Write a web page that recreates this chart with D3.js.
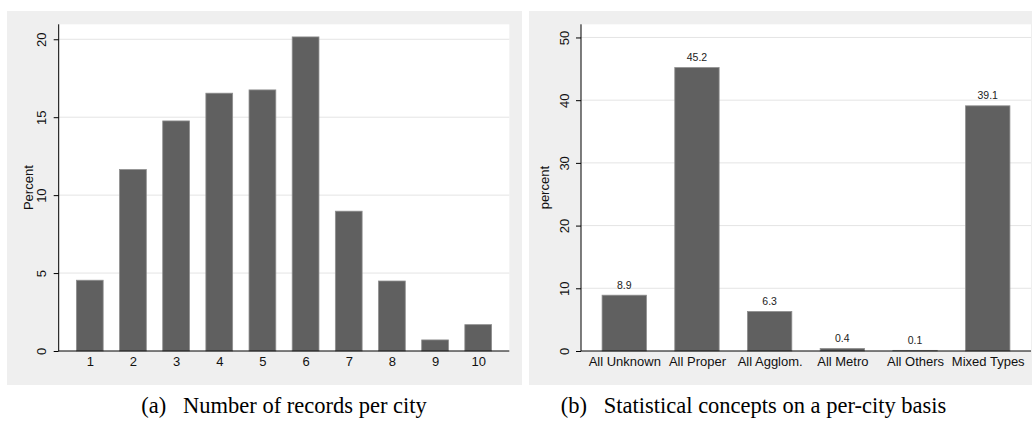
<!DOCTYPE html>
<html>
<head>
<meta charset="utf-8">
<script src="https://cdn.jsdelivr.net/npm/d3@7"></script>
<style>
  html, body { margin: 0; padding: 0; background: #ffffff; }
  svg { display: block; }
</style>
</head>
<body>
<svg id="chart" width="1032" height="427"></svg>
<script>
// Panel (a): share of cities by number of records
const recordCounts = ["1", "2", "3", "4", "5", "6", "7", "8", "9", "10"];
const recordPercent = [4.54, 11.64, 14.76, 16.54, 16.75, 20.15, 8.97, 4.49, 0.71, 1.69];
const recordTicks = [0, 5, 10, 15, 20];

// Panel (b): statistical concept types per city
const conceptTypes = ["All Unknown", "All Proper", "All Agglom.", "All Metro", "All Others", "Mixed Types"];
const conceptPercent = [8.9, 45.2, 6.3, 0.4, 0.1, 39.1];
const conceptTicks = [0, 10, 20, 30, 40, 50];

const captions = ["(a)\u2002 Number of records per city", "(b)\u2002 Statistical concepts on a per-city basis"];

const svg = d3.select("#chart");
const sansFont = "'Liberation Sans', Arial, Helvetica, sans-serif";
const serifFont = "'Liberation Serif', 'Times New Roman', Times, serif";
const barFill = "#606060";
const barEdge = "#8e8e8e";
const gridColor = "#e4e4e4";
const panelBg = "#efefef";
const axisFontSize = 13;

function drawPanel(cfg) {
  const g = svg.append("g");

  // grey graph region
  g.append("rect")
    .attr("x", cfg.bg[0]).attr("y", cfg.bg[1])
    .attr("width", cfg.bg[2]).attr("height", cfg.bg[3])
    .attr("fill", panelBg);

  const x = d3.scaleLinear().domain(cfg.xDomain).range([cfg.left, cfg.right]);
  const y = d3.scaleLinear().domain(cfg.yDomain).range([cfg.bottom, cfg.top]);

  // white plot region
  g.append("rect")
    .attr("x", cfg.left).attr("y", cfg.top)
    .attr("width", cfg.right - cfg.left).attr("height", cfg.bottom - cfg.top)
    .attr("fill", "#ffffff");

  // horizontal grid lines
  g.append("g").selectAll("line")
    .data(cfg.ticks.filter(t => t > 0))
    .join("line")
    .attr("x1", cfg.left).attr("x2", cfg.right)
    .attr("y1", d => y(d)).attr("y2", d => y(d))
    .attr("stroke", gridColor).attr("stroke-width", 1);

  // bars
  const bw = (x(1) - x(0)) * cfg.barWidth;
  g.append("g").selectAll("rect")
    .data(cfg.values)
    .join("rect")
    .attr("x", (d, i) => x(cfg.pos(i)) - bw / 2)
    .attr("y", d => y(d))
    .attr("width", bw)
    .attr("height", d => y(0) - y(d))
    .attr("fill", barFill)
    .attr("stroke", barEdge)
    .attr("stroke-width", 0.8);

  // value labels above bars
  if (cfg.showValues) {
    g.append("g").selectAll("text")
      .data(cfg.values)
      .join("text")
      .attr("x", (d, i) => x(cfg.pos(i)))
      .attr("y", d => y(d) - 6.5)
      .attr("text-anchor", "middle")
      .attr("font-family", sansFont)
      .attr("font-size", 10.5)
      .attr("fill", "#222")
      .text(d => d.toFixed(1));
  }

  // y axis with rotated tick labels
  const yAxis = d3.axisLeft(y).tickValues(cfg.ticks).tickSize(5).tickSizeOuter(0).tickPadding(0);
  const ya = g.append("g").attr("transform", `translate(${cfg.left},0)`).call(yAxis);
  ya.select(".domain").attr("stroke", "#000").attr("d", `M0,${cfg.top}V${cfg.bottom}`);
  ya.selectAll(".tick line").attr("stroke", "#000");
  ya.selectAll(".tick text")
    .attr("x", null).attr("dy", null)
    .attr("transform", `translate(-16.8,0) rotate(-90)`)
    .attr("text-anchor", "middle")
    .attr("dominant-baseline", "central")
    .attr("font-family", sansFont)
    .attr("font-size", axisFontSize)
    .attr("fill", "#111");

  // x axis: category labels, no tick marks
  const xAxis = d3.axisBottom(x)
    .tickValues(cfg.categories.map((c, i) => cfg.pos(i)))
    .tickFormat((d, i) => cfg.categories[i])
    .tickSize(0).tickSizeOuter(0).tickPadding(5.5);
  const xa = g.append("g").attr("transform", `translate(0,${cfg.bottom})`).call(xAxis);
  xa.select(".domain").attr("stroke", "#000").attr("d", `M${cfg.left},0H${cfg.right}`);
  xa.selectAll(".tick text")
    .attr("font-family", sansFont)
    .attr("font-size", axisFontSize)
    .attr("fill", "#111");

  // y axis title
  g.append("text")
    .attr("transform", `translate(${cfg.titleX},${(cfg.top + cfg.bottom) / 2}) rotate(-90)`)
    .attr("text-anchor", "middle")
    .attr("dominant-baseline", "central")
    .attr("font-family", sansFont)
    .attr("font-size", axisFontSize)
    .attr("fill", "#111")
    .text(cfg.yTitle);

  // caption below the graph
  svg.append("text")
    .attr("x", cfg.captionX).attr("y", 413)
    .attr("text-anchor", "middle")
    .attr("font-family", serifFont)
    .attr("font-size", 22.5)
    .attr("fill", "#000")
    .text(cfg.caption);
}

drawPanel({
  bg: [7, 11, 515, 374],
  left: 58.7, right: 509.3, top: 24.3, bottom: 351,
  xDomain: [0.28, 10.72], yDomain: [0, 20.96],
  pos: i => i + 1,
  barWidth: 0.62,
  categories: recordCounts,
  values: recordPercent,
  ticks: recordTicks,
  showValues: false,
  yTitle: "Percent",
  titleX: 28.5,
  caption: captions[0],
  captionX: 284
});

drawPanel({
  bg: [529, 11, 503, 374],
  left: 581, right: 1031, top: 24.3, bottom: 351,
  xDomain: [-0.595, 5.595], yDomain: [0, 52.1],
  pos: i => i,
  barWidth: 0.61,
  categories: conceptTypes,
  values: conceptPercent,
  ticks: conceptTicks,
  showValues: true,
  yTitle: "percent",
  titleX: 544,
  caption: captions[1],
  captionX: 753.5
});
</script>
</body>
</html>
